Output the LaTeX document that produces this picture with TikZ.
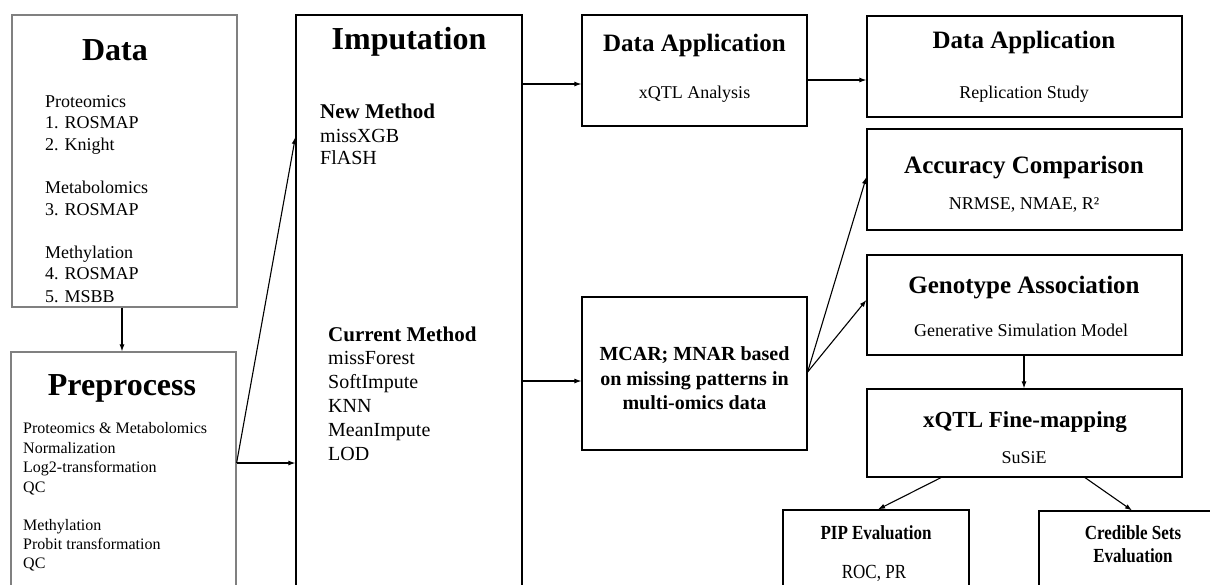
\documentclass[tikz,border=0pt]{standalone}
\usepackage{graphicx}
\usepackage{fontspec}
\setmainfont{Liberation Serif}
\usetikzlibrary{arrows.meta,fit}
\newcommand\fsz[1]{\fontsize{#1}{#1}\selectfont}
\newcommand\cond[1]{\scalebox{0.85}[1]{#1}}
\begin{document}
\begin{tikzpicture}[x=1pt,y=-1pt,
  box/.style={draw=black, line width=1.2pt, inner sep=0pt},
  softbox/.style={box, draw=black!50},
  arr/.style={line width=1.1pt, -{Latex[length=7pt,width=5pt]}},
  tl/.style={inner sep=0pt, anchor=base west},
  tc/.style={inner sep=0pt, anchor=base},
]
\useasboundingbox (0,0) rectangle (1210,584);
\clip (0,0) rectangle (1210,584);

% ---- boxes ----
\node[softbox, fit={(12,15)(237,307)}] (data) {};
\node[softbox, fit={(11,352)(236,640)}] (prep) {};
\node[box, fit={(296,15)(522,640)}] (imp) {};
\node[box, fit={(582,15)(807,126)}] (app1) {};
\node[box, fit={(867,16)(1182,117)}] (app2) {};
\node[box, fit={(867,129)(1182,230)}] (acc) {};
\node[box, fit={(867,255)(1182,355)}] (geno) {};
\node[box, fit={(582,297)(807,450)}] (mcar) {};
\node[box, fit={(867,389)(1182,477)}] (fine) {};
\node[box, fit={(783,510)(969,640)}] (pip) {};
\node[box, fit={(1039,511)(1227,640)}] (cred) {};

% ---- Data ----
\node[tc, font=\bfseries\fsz{32}] (dataT) at (115,60.5) {Data};
\foreach \t/\y [count=\k] in {Proteomics/101, 1. ROSMAP/122, 2. Knight/144,
    Metabolomics/187, 3. ROSMAP/209, Methylation/252, 4. ROSMAP/273, 5. MSBB/296}
  \node[tl, font=\fsz{18}] (dt\k) at (45,\y+6) {\t};

% ---- Preprocess ----
\node[tc, font=\bfseries\fsz{32}] (prepT) at (122,395.5) {Preprocess};
\foreach \t/\y [count=\k] in {Proteomics \& Metabolomics/428, Normalization/448,
    Log2-transformation/467, QC/487, Methylation/525, Probit transformation/544, QC/563}
  \node[tl, font=\fsz{16}] (pt\k) at (23,\y+5.3) {\t};

% ---- Imputation ----
\node[tc, font=\bfseries\fsz{32}] (impT) at (409,49.5) {Imputation};
\node[tl, font=\bfseries\fsz{21}] (newM) at (320,118) {New Method};
\foreach \t/\y [count=\k] in {missXGB/136, FlASH/158}
  \node[tl, font=\fsz{20}] (nm\k) at (320,\y+6.6) {\t};
\node[tl, font=\bfseries\fsz{21}] (curM) at (328,341) {Current Method};
\foreach \t/\y [count=\k] in {missForest/358, SoftImpute/382, KNN/406, MeanImpute/430, LOD/454}
  \node[tl, font=\fsz{20}] (cm\k) at (328,\y+6.6) {\t};

% ---- right-hand boxes ----
\node[tc, font=\bfseries\fsz{25}] (app1T) at (694.5,51) {Data Application};
\node[tc, font=\fsz{18}] (app1S) at (694.5,98) {xQTL Analysis};
\node[tc, font=\bfseries\fsz{25}] (app2T) at (1024,48) {Data Application};
\node[tc, font=\fsz{18}] (app2S) at (1024,98) {Replication Study};
\node[tc, font=\bfseries\fsz{25}] (accT) at (1024,173) {Accuracy Comparison};
\node[tc, font=\fsz{18}] (accS) at (1024,209) {NRMSE, NMAE, R²};
\node[tc, font=\bfseries\fsz{25}] (genoT) at (1024,293) {Genotype Association};
\node[tc, font=\fsz{18}] (genoS) at (1021,336) {Generative Simulation Model};
\foreach \t/\y [count=\k] in {MCAR; MNAR based/354, on missing patterns in/379, multi-omics data/403}
  \node[tc, font=\bfseries\fsz{20}] (mc\k) at (694.5,\y+6.6) {\t};
\node[tc, font=\bfseries\fsz{23}] (fineT) at (1025,427.5) {xQTL Fine-mapping};
\node[tc, font=\fsz{18}] (fineS) at (1024,463) {SuSiE};
\node[tc, font=\bfseries\fsz{20}] (pipT) at (876,539.6) {\cond{PIP Evaluation}};
\node[tc, font=\fsz{20}] (pipS) at (874,578.6) {\cond{ROC, PR}};
\node[tc, font=\bfseries\fsz{20}] (credT) at (1133,539.6) {\cond{Credible Sets}};
\node[tc, font=\bfseries\fsz{20}] (credT2) at (1133,562.6) {\cond{Evaluation}};

% ---- connectors ----
\draw[arr] (data.south -| 122,0) -- (prep.north -| 122,0);
\draw[arr] (prep.east |- 0,463) -- (imp.west |- 0,463);
\draw[arr] (prep.east |- 0,463) -- (imp.west |- 0,137);
\draw[arr] (imp.east |- 0,84) -- (app1.west |- 0,84);
\draw[arr] (app1.east |- 0,80) -- (app2.west |- 0,80);
\draw[arr] (imp.east |- 0,381) -- (mcar.west |- 0,381);
\draw[arr] (mcar.east |- 0,372) -- (acc.west |- 0,177);
\draw[arr] (mcar.east |- 0,372) -- (geno.west |- 0,300);
\draw[arr] (geno.south -| 1024,0) -- (fine.north -| 1024,0);
\draw[arr] (fine.south -| 941,0) -- (pip.north -| 878,0);
\draw[arr] (fine.south -| 1085,0) -- (cred.north -| 1132,0);
\end{tikzpicture}
\end{document}
